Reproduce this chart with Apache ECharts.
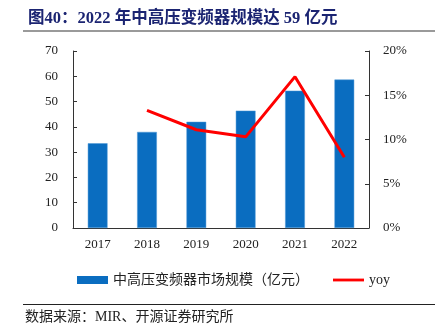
<!DOCTYPE html>
<html>
<head>
<meta charset="utf-8">
<script src="https://cdn.jsdelivr.net/npm/echarts@6/dist/echarts.min.js"></script>
<style>
  html, body { margin: 0; padding: 0; background: #fff; }
  #chart { width: 439px; height: 334px; }
</style>
</head>
<body>
<div id="chart"></div>
<script>
// Market size of medium/high-voltage inverters (100M CNY) and YoY growth
const years = ['2017', '2018', '2019', '2020', '2021', '2022'];
const marketSize = [33.5, 38, 42, 46.4, 54.3, 58.7];
const yoyPct = [null, 13.3, 11.1, 10.3, 17.1, 8.0];
const leftTicks = [0, 10, 20, 30, 40, 50, 60, 70];
const rightTicks = ['0%', '5%', '10%', '15%', '20%'];

const serif = '"Liberation Serif", "Times New Roman", "Noto Sans CJK SC", serif';
const cjk = '"Liberation Serif", "Noto Sans CJK SC", serif';

const chart = echarts.init(document.getElementById('chart'), null, { renderer: 'canvas' });

chart.setOption({
  animation: false,
  backgroundColor: '#ffffff',
  title: {
    text: '图40：2022 年中高压变频器规模达 59 亿元',
    left: 23,
    top: 5,
    textStyle: { fontFamily: cjk, fontSize: 16.5, fontWeight: 'bold', color: '#1b2472' }
  },
  graphic: [
    { type: 'rect', shape: { x: 23, y: 30, width: 412, height: 2 }, style: { fill: '#9a9a9a' } },
    { type: 'rect', shape: { x: 23, y: 304, width: 412, height: 1 }, style: { fill: '#222' } },
    {
      type: 'text', left: 25, top: 310,
      style: { text: '数据来源：MIR、开源证券研究所', font: '14px ' + cjk, fill: '#222' }
    }
  ],
  legend: {
    left: 72,
    top: 268,
    itemWidth: 31,
    itemHeight: 8,
    itemGap: 24,
    itemStyle: { borderWidth: 0 },
    textStyle: { fontFamily: cjk, fontSize: 14, color: '#222' },
    data: [
      { name: '中高压变频器市场规模（亿元）', icon: 'rect' },
      { name: 'yoy', icon: 'path://M0,0h33v3h-33z' }
    ]
  },
  grid: { left: 73, right: 70, top: 51, bottom: 106, containLabel: false },
  xAxis: {
    type: 'category',
    data: years,
    axisLine: { lineStyle: { color: '#333', width: 1 } },
    axisTick: { show: false },
    axisLabel: { fontFamily: serif, fontSize: 13, color: '#222', margin: 10 }
  },
  yAxis: [
    {
      type: 'value', min: leftTicks[0], max: leftTicks[leftTicks.length - 1], interval: 10,
      axisLine: { show: true, lineStyle: { color: '#333' } },
      axisTick: { show: true, inside: true, length: 4, lineStyle: { color: '#333' } },
      splitLine: { show: false },
      axisLabel: { fontFamily: serif, fontSize: 13, color: '#222', margin: 15 }
    },
    {
      type: 'value', min: 0, max: 20, interval: 5,
      axisLine: { show: true, lineStyle: { color: '#333' } },
      axisTick: { show: true, inside: true, length: 4, lineStyle: { color: '#333' } },
      splitLine: { show: false },
      axisLabel: {
        fontFamily: serif, fontSize: 13, color: '#222', margin: 14,
        formatter: (v) => rightTicks[v / 5]
      }
    }
  ],
  series: [
    {
      name: '中高压变频器市场规模（亿元）',
      type: 'bar',
      data: marketSize,
      barWidth: '40%',
      itemStyle: { color: '#0a6dc0', borderColor: '#4f98d6', borderWidth: 0.5 }
    },
    {
      name: 'yoy',
      type: 'line',
      yAxisIndex: 1,
      data: yoyPct,
      symbol: 'none',
      lineStyle: { color: '#ff0000', width: 3 },
      itemStyle: { color: '#ff0000' }
    }
  ]
});
</script>
</body>
</html>
